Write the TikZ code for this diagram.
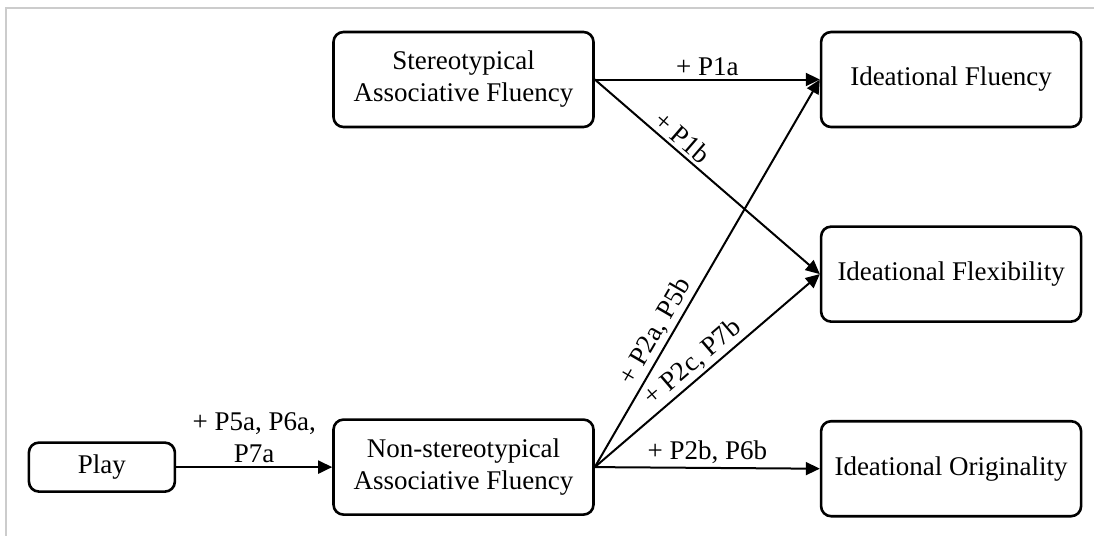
\documentclass[tikz,border=0pt]{standalone}
\usepackage{fontspec}
\setmainfont{Liberation Serif}
\usepackage{tikz}
\usetikzlibrary{positioning, arrows.meta}

\begin{document}
\begin{tikzpicture}[
    x=1pt, y=-1pt,
    node distance=48.5pt and 112.5pt,
    box/.style={rectangle, draw, line width=1.3pt, rounded corners=5pt, minimum width=130pt, minimum height=47.5pt, align=center, inner sep=2pt, font=\fontsize{13.5}{16}\selectfont},
    smallbox/.style={box, minimum width=73pt, minimum height=24.5pt},
    arrow/.style={-{Triangle[length=7pt, width=6.5pt]}, line width=1pt},
    label/.style={font=\fontsize{13.5}{16}\selectfont, align=center, inner sep=1.5pt}
]
\useasboundingbox (0,0) rectangle (547,268);

% frame
\draw[gray!40, line width=1pt] (3,268) -- (3,4) -- (547,4);

% left column
\node[box] (stereo) at (231.75,39.75) {Stereotypical\\Associative Fluency};
\node[box, below=145pt of stereo] (nonstereo) {Non-stereotypical\\Associative Fluency};
\node[smallbox, left=78pt of nonstereo] (play) {Play};

% outcomes
\node[box, right=of stereo] (fluency) {Ideational Fluency};
\node[box, below=of fluency] (flexibility) {Ideational Flexibility};
\node[box, below=of flexibility] (originality) {Ideational Originality};

% Arrows with labels
\draw[arrow] (play) -- node[above, label] {+ P5a, P6a,\\P7a} (nonstereo);
\draw[arrow] (stereo.east) -- node[above, label] {+ P1a} (fluency.west);
\draw[arrow] (stereo.east) -- node[above, sloped, pos=0.35, label] {+ P1b} (flexibility.west);
\draw[arrow] (nonstereo.east) -- node[above, sloped, pos=0.33, label] {+ P2a, P5b} (fluency.west);
\draw[arrow] (nonstereo.east) -- node[above, sloped, pos=0.48, label] {+ P2c, P7b} (flexibility.west);
\draw[arrow] (nonstereo.east) -- node[above, label] {+ P2b, P6b} (originality.west);

\end{tikzpicture}
\end{document}
